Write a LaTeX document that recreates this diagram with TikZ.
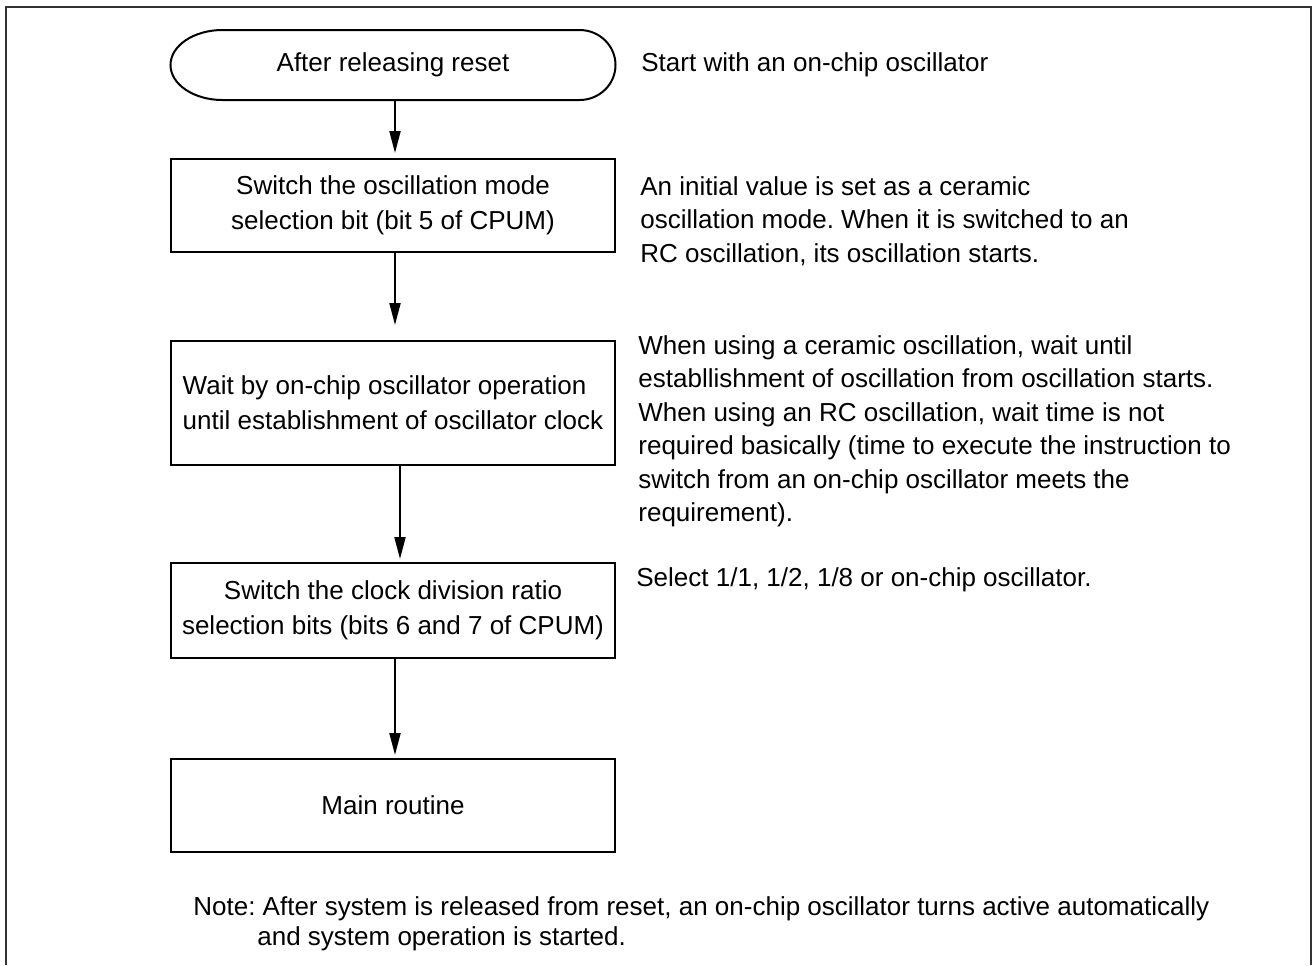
\documentclass[tikz,border=0pt]{standalone}
\usepackage{fontspec}
\setmainfont{Liberation Sans}
\frenchspacing
\usetikzlibrary{positioning,arrows.meta}

\tikzset{
	flowbox/.style={draw, line width=1pt, minimum width=222pt, font=\fontsize{13}{17.5}\selectfont, align=center},
	termbox/.style={minimum width=222.5pt, minimum height=35pt, outer sep=0pt, font=\fontsize{13}{17.5}\selectfont},
	remark/.style={font=\fontsize{13}{16.75}\selectfont, align=left, inner sep=0pt},
	flowarrow/.style={line width=1pt, -{Triangle[length=11pt,width=5.5pt]}},
	frameline/.style={line width=1.3pt, black!80},
}

\begin{document}
\begin{tikzpicture}
		\useasboundingbox (0,0) rectangle (656.5pt,-482.5pt);
		\draw [frameline] (3pt,-482.5pt) |- (655.5pt,-3.5pt) -- (655.5pt,-482.5pt);

		\node [termbox] (start) at (196.5pt,-32.5pt) {After releasing reset};
		\draw [line width=1pt] ([xshift=26pt]start.north west) -- ([xshift=-18pt]start.north east)
			arc [start angle=90, end angle=-90, x radius=18pt, y radius=17.5pt]
			-- ([xshift=26pt]start.south west)
			arc [start angle=270, end angle=90, x radius=26pt, y radius=17.5pt] -- cycle;

		\node [flowbox, minimum height=46.5pt, below=29pt of start] (modebit) {Switch the oscillation mode\\selection bit (bit 5 of CPUM)};
		\node [flowbox, minimum height=62pt, align=left, below=43.5pt of modebit] (wait) {Wait by on-chip oscillator operation\\until establishment of oscillator clock};
		\node [flowbox, minimum height=47.5pt, below=48pt of wait] (divbits) {Switch the clock division ratio\\selection bits (bits 6 and 7 of CPUM)};
		\node [flowbox, minimum height=46.5pt, below=49.5pt of divbits] (mainr) {Main routine};

		\node [remark, anchor=west] (r0) at ([xshift=12.75pt]start.east) {Start with an on-chip oscillator};
		\node [remark, anchor=north west] (r1) at ([xshift=12pt,yshift=-9pt]modebit.north east) {An initial value is set as a ceramic\\oscillation mode. When it is switched to an\\RC oscillation, its oscillation starts.};
		\node [remark, anchor=north west] (r2) at ([xshift=11pt,yshift=2.5pt]wait.north east) {When using a ceramic oscillation, wait until\\establlishment of oscillation from oscillation starts.\\When using an RC oscillation, wait time is not\\required basically (time to execute the instruction to\\switch from an on-chip oscillator meets the\\requirement).};
		\node [remark, anchor=north west] (r3) at ([xshift=10pt,yshift=-2.5pt]divbits.north east) {Select 1/1, 1/2, 1/8 or on-chip oscillator.};

		\node [remark, font=\fontsize{13}{15}\selectfont, anchor=north west] (note) at (96.5pt,-448pt) {Note: After system is released from reset, an on-chip oscillator turns active automatically\\\hspace*{32pt}and system operation is started.};

		\draw [flowarrow, shorten >=2.5pt] ([xshift=1pt]start.south) -- ([xshift=1pt]modebit.north);
		\draw [flowarrow, shorten >=7.5pt] ([xshift=1pt]modebit.south) -- ([xshift=1pt]wait.north);
		\draw [flowarrow, shorten >=1.5pt] ([xshift=3.5pt]wait.south) -- ([xshift=3.5pt]divbits.north);
		\draw [flowarrow, shorten >=1.5pt] ([xshift=1pt]divbits.south) -- ([xshift=1pt]mainr.north);
	\end{tikzpicture}
\end{document}
